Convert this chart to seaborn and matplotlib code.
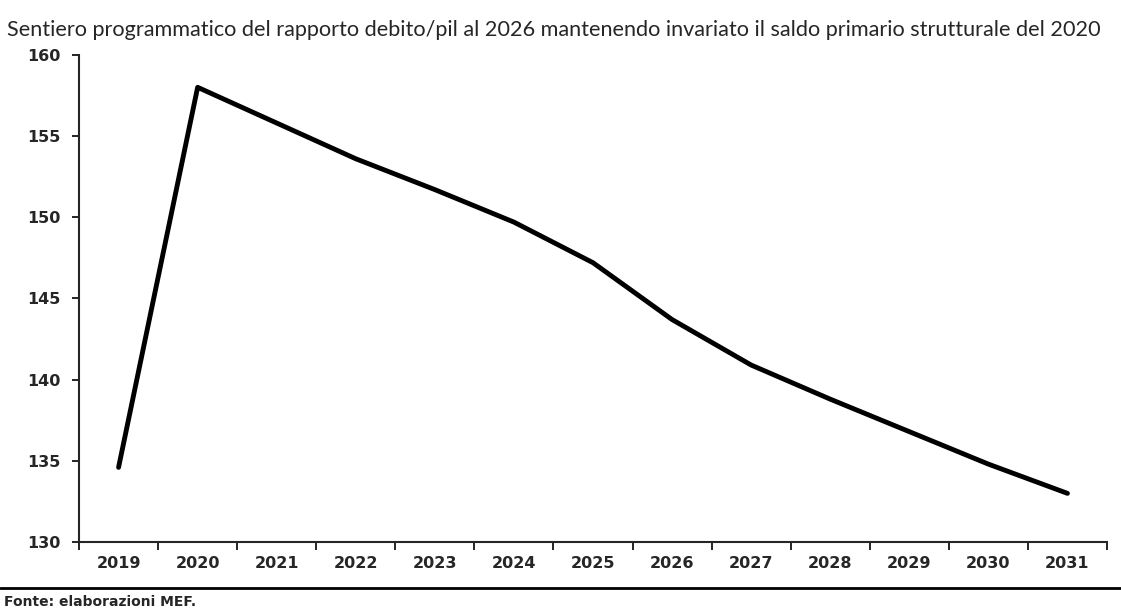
import matplotlib
matplotlib.use("Agg")
import matplotlib.pyplot as plt
import seaborn as sns
import pandas as pd
from matplotlib.lines import Line2D

# dati (rapporto debito/pil, %)
anni = [2019, 2020, 2021, 2022, 2023, 2024, 2025, 2026, 2027, 2028, 2029, 2030, 2031]
debito_pil = [134.6, 158.0, 155.8, 153.6, 151.7, 149.7, 147.2, 143.7, 140.9, 138.8, 136.8, 134.8, 133.0]

titolo = "Sentiero programmatico del rapporto debito/pil al 2026 mantenendo invariato il saldo primario strutturale del 2020"
fonte = "Fonte: elaborazioni MEF."

df = pd.DataFrame({"anno": anni, "debito_pil": debito_pil})

sns.set_style("ticks")
plt.rcParams["font.family"] = ["DejaVu Sans"]

fig = plt.figure(figsize=(11.21, 6.16), dpi=100)
ax = fig.add_axes([0.0705, 0.120, 0.917, 0.791])

sns.lineplot(data=df, x="anno", y="debito_pil", ax=ax, color="black", linewidth=3.5)

# asse x a categorie: tacche tra gli anni
ax.set_xlim(anni[0] - 0.5, anni[-1] + 0.5)
ax.set_xticks(anni)
ax.set_xticklabels([str(a) for a in anni])
ax.set_xticks([a - 0.5 for a in anni] + [anni[-1] + 0.5], minor=True)
ax.tick_params(axis="x", which="major", length=0, pad=10, labelsize=11.5)
ax.tick_params(axis="x", which="minor", length=6, width=1.2, direction="out", color="black")
for t in ax.get_xticklabels():
    t.set_fontweight("bold")

ax.set_ylim(130, 160)
ax.set_yticks(range(130, 161, 5))
ax.tick_params(axis="y", length=5, width=1.2, pad=8, labelsize=11.5, color="black")
for t in ax.get_yticklabels():
    t.set_fontweight("bold")

ax.set_xlabel("")
ax.set_ylabel("")
sns.despine(ax=ax)
ax.spines["left"].set_linewidth(1.5)
ax.spines["bottom"].set_linewidth(1.5)

fig.text(0.006, 0.951, titolo, fontsize=15.6, family=["Lato", "DejaVu Sans"], ha="left", va="center")

# linea orizzontale e fonte
fig.add_artist(Line2D([0.0, 1.0], [0.046, 0.046], color="black", linewidth=2, transform=fig.transFigure))
fig.text(0.004, 0.022, fonte, fontsize=10, fontweight="bold", ha="left", va="center")

fig.savefig("out.png", dpi=100)
